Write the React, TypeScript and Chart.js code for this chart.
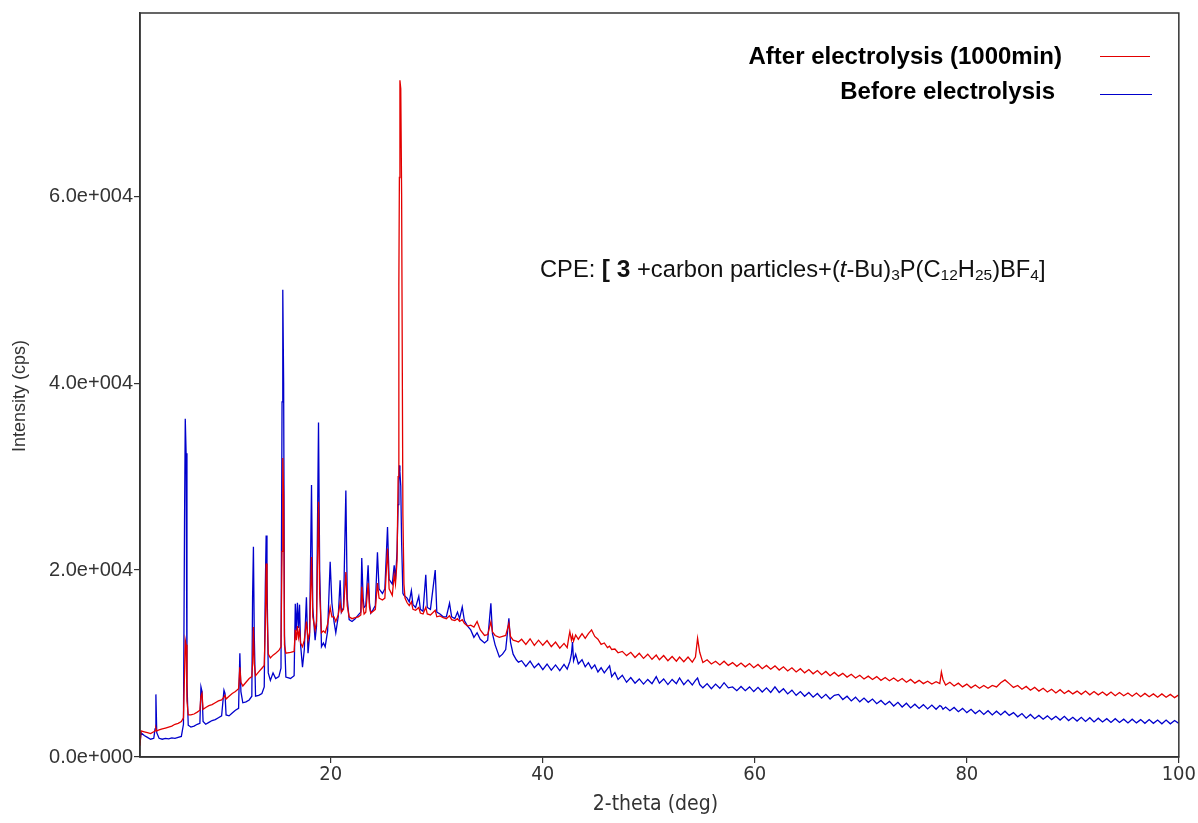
import React, { useEffect, useRef } from "react";
import { Chart, registerables } from "chart.js";

Chart.register(...registerables);

// ---------------- data ----------------
const twoTheta = [
  // 2 - 16 deg
  2.0, 2.1, 2.4, 2.7, 3.0, 3.3, 3.42, 3.5, 3.58, 3.8, 4.1, 4.4, 4.7, 5.0, 5.3, 5.6, 5.9,
  6.1, 6.2, 6.27, 6.35, 6.43, 6.55, 6.8, 7.1, 7.4, 7.65, 7.75, 7.85, 7.95, 8.2, 8.5, 8.8,
  9.1, 9.4, 9.7, 9.92, 10.02, 10.12, 10.4, 10.7, 11.0, 11.3, 11.42, 11.52, 11.7, 12.0,
  12.3, 12.55, 12.62, 12.7, 12.78, 12.9, 13.2, 13.5, 13.72, 13.82, 13.9, 13.98, 14.1,
  14.3, 14.55, 14.8, 15.1, 15.3, 15.4, 15.47, 15.55, 15.63, 15.76,
  // 16 - 38 deg
  16.2, 16.54, 16.65, 16.75, 16.85, 16.95, 17.05, 17.15, 17.33, 17.5, 17.7, 17.85, 18.0,
  18.18, 18.3, 18.52, 18.65, 18.84, 18.95, 19.12, 19.3, 19.47, 19.7, 19.94, 20.1, 20.3,
  20.47, 20.7, 20.88, 21.0, 21.2, 21.42, 21.55, 21.73, 22.0, 22.3, 22.6, 22.83, 22.92,
  23.05, 23.14, 23.3, 23.52, 23.65, 23.77, 24.0, 24.2, 24.4, 24.55, 24.87, 25.1, 25.35,
  25.5, 25.8, 25.98, 26.1, 26.25, 26.35, 26.42, 26.47, 26.52, 26.6, 26.68, 26.8, 26.9,
  27.0, 27.2, 27.4, 27.6, 27.75, 28.0, 28.3, 28.45, 28.7, 28.96, 29.1, 29.4, 29.85, 30.0,
  30.3, 30.6, 30.9, 31.2, 31.4, 31.7, 31.95, 32.15, 32.4, 32.6, 32.9, 33.2, 33.5, 33.8,
  34.1, 34.5, 34.8, 35.1, 35.25, 35.5, 35.9, 36.2, 36.5, 36.8, 36.95, 37.2, 37.5, 37.7,
  // 38 - 100 deg
  38.0, 38.4, 38.8, 39.2, 39.6, 40.0, 40.4, 40.8, 41.2, 41.6, 42.0, 42.3, 42.45, 42.55,
  42.7, 42.8, 42.9, 43.1, 43.35, 43.7, 44.0, 44.3, 44.6, 44.9, 45.2, 45.5, 45.8, 46.1,
  46.3, 46.5, 46.8, 47.1, 47.5, 47.9, 48.3, 48.7, 49.1, 49.5, 49.9, 50.3, 50.7, 51.0,
  51.4, 51.8, 52.2, 52.6, 52.9, 53.3, 53.7, 54.1, 54.4, 54.6, 54.8, 55.1, 55.5, 55.9,
  56.3, 56.7, 57.1, 57.5, 57.9, 58.3, 58.7, 59.1, 59.5, 59.9, 60.3, 60.7, 61.1, 61.5,
  61.9, 62.3, 62.7, 63.1, 63.5, 63.9, 64.3, 64.7, 65.1, 65.5, 65.9, 66.3, 66.7, 67.1,
  67.5, 67.9, 68.3, 68.7, 69.1, 69.5, 69.9, 70.3, 70.7, 71.1, 71.5, 71.9, 72.3, 72.7,
  73.1, 73.5, 73.9, 74.3, 74.7, 75.1, 75.5, 75.9, 76.3, 76.7, 77.1, 77.45, 77.6, 77.75,
  78.0, 78.4, 78.8, 79.2, 79.6, 80.0, 80.4, 80.8, 81.2, 81.6, 82.0, 82.4, 82.8, 83.2,
  83.6, 84.0, 84.4, 84.8, 85.2, 85.6, 86.0, 86.4, 86.8, 87.2, 87.6, 88.0, 88.4, 88.8,
  89.2, 89.6, 90.0, 90.4, 90.8, 91.2, 91.6, 92.0, 92.4, 92.8, 93.2, 93.6, 94.0, 94.4,
  94.8, 95.2, 95.6, 96.0, 96.4, 96.8, 97.2, 97.6, 98.0, 98.4, 98.8, 99.2, 99.6, 100.0,
];

const afterCounts = [
  // 2 - 16 deg
  1200, 2800, 2700, 2600, 2500, 2700, 2800, 3100, 2800, 2900, 3000, 3100, 3200, 3300, 3500, 3600, 3800,
  4200, 9000, 12500, 12000, 6000, 4500, 4500, 4600, 4800, 5000, 6500, 6800, 5100, 5300, 5500, 5600,
  5800, 6000, 6100, 6400, 6600, 6200, 6500, 6800, 7000, 7300, 9600, 8000, 7600, 8000,
  8400, 8600, 10000, 13900, 10000, 8700, 9100, 9500, 9800, 14000, 20700, 16000, 11000,
  10600, 10900, 11100, 11400, 11800, 22000, 32000, 28000, 12000, 11100,
  // 16 - 38 deg
  11200, 11300, 13600, 12500, 14000, 12800, 13500, 12200, 11800, 12500, 14500, 12500, 13300,
  21400, 15000, 13600, 14500, 27300, 17500, 13300, 13500, 13300, 14200, 16000, 15000, 15000,
  14500, 15200, 16500, 15500, 15800, 19800, 16200, 15000, 14800, 14900, 15000, 15200, 18200,
  16000, 15300, 15500, 18600, 16000, 15400, 15600, 15800, 18600, 17000, 16800, 17000, 22300,
  18000, 17300, 19500, 18500, 21000, 30000, 50500, 62000, 72400, 71500, 60300, 26000, 18500,
  17000, 16500, 16200, 16600, 15800, 15700, 16000, 15400, 15300, 16000, 15300, 15200, 15700, 15000,
  15100, 14900, 14800, 15100, 14700, 14600, 14800, 14500, 14700, 14300, 14000, 14100, 13900, 14500,
  13600, 13000, 13100, 14450, 13400, 13000, 12800, 12900, 13000, 14300, 12900, 12500, 12400, 12300,
  // 38 - 100 deg
  12600, 12050, 12650, 11950, 12500, 11950, 12450, 11800, 12300, 11650, 12150, 11700, 12800, 13400,
  12500, 13000, 12400, 13050, 12600, 13200, 12700, 13200, 13600, 12900, 12600, 12050, 12200, 11700,
  11850, 11500, 11550, 11150, 11300, 10850, 11200, 10650, 11100, 10550, 11000, 10450, 10900, 10400,
  10850, 10300, 10750, 10250, 10700, 10200, 10700, 10150, 10700, 12700, 11200, 10100, 10400, 9950,
  10250, 9850, 10250, 9800, 10100, 9700, 10050, 9650, 10000, 9550, 9900, 9450, 9800, 9400,
  9750, 9300, 9650, 9200, 9550, 9100, 9450, 9000, 9350, 8900, 9250, 8800, 9150, 8700,
  9050, 8650, 8950, 8550, 8850, 8450, 8750, 8350, 8650, 8300, 8600, 8200, 8500, 8150,
  8450, 8100, 8400, 8000, 8300, 7900, 8200, 7850, 8100, 7800, 8050, 7850, 9100, 8300,
  7700, 8000, 7600, 7900, 7500, 7800, 7400, 7700, 7350, 7650, 7350, 7650, 7500, 7950,
  8250, 7850, 7450, 7650, 7250, 7550, 7150, 7450, 7050, 7350, 6950, 7250, 6850, 7200,
  6800, 7100, 6750, 7050, 6700, 7050, 6650, 7000, 6650, 6950, 6600, 6950, 6550, 6900,
  6550, 6850, 6500, 6850, 6450, 6800, 6450, 6750, 6400, 6750, 6400, 6700, 6350, 6650,
];

const beforeCounts = [
  // 2 - 16 deg
  1500, 2600, 2300, 2100, 1900, 2000, 3000, 6700, 2600, 2000, 1900, 2000, 1950, 2050, 2000, 2100, 2200,
  3500, 25000, 36200, 32500, 8000, 3400, 3200, 3300, 3500, 3600, 7500, 7000, 3800, 3500, 3700, 3900,
  4000, 4200, 4400, 7150, 6800, 4500, 4400, 4700, 5000, 5200, 11100, 7000, 5800, 5900,
  6100, 6500, 17000, 22500, 13000, 6500, 6600, 6800, 7500, 18000, 23700, 19000, 9000,
  8200, 9000, 8400, 8600, 9500, 38000, 50000, 40000, 13000, 8550,
  // 16 - 38 deg
  8400, 8700, 16400, 13500, 16500, 13800, 16300, 12000, 9600, 11500, 17100, 11100, 13000,
  29100, 16000, 12500, 14000, 35800, 20000, 11800, 12200, 11800, 13500, 20900, 16500, 14500,
  13300, 15000, 18900, 15500, 16000, 28500, 17000, 14700, 14500, 14800, 15200, 15500, 21300,
  17000, 16000, 16200, 20500, 16500, 15400, 15800, 16200, 21900, 18000, 17500, 18000, 24600,
  19000, 18500, 20500, 19000, 22000, 27000, 29500, 31200, 30500, 29000, 23000, 17500, 17300,
  17200, 17000, 16600, 17800, 16300, 16000, 17200, 15800, 15600, 19500, 16000, 15800, 20000, 15500,
  15300, 15000, 15000, 16450, 15000, 14800, 15500, 14800, 16050, 14600, 14000, 13600, 12800, 13300,
  12600, 12200, 12500, 16450, 13200, 12000, 10700, 11000, 11500, 14850, 12300, 11000, 10400, 10150,
  // 38 - 100 deg
  10300, 9700, 10250, 9550, 10000, 9350, 9950, 9300, 9850, 9250, 9900, 9400, 9900, 10200,
  11000, 12300, 10300, 11000, 9950, 10400, 9650, 10100, 9450, 9850, 9100, 9550, 9000, 9450,
  9750, 8600, 9050, 8300, 8750, 8000, 8500, 7900, 8350, 7800, 8300, 7850, 8600, 7900,
  8350, 7750, 8300, 7850, 8450, 7750, 8250, 7700, 8200, 8450, 7750, 7400, 7850, 7300,
  7800, 7350, 7950, 7400, 7500, 7100, 7550, 7100, 7500, 7000, 7450, 6950, 7400, 6900,
  7500, 6900, 7300, 6750, 7150, 6600, 7000, 6500, 6900, 6400, 6800, 6300, 6700, 6200,
  6600, 6700, 6150, 6500, 6000, 6400, 5900, 6300, 5850, 6200, 5700, 6050, 5600, 5950,
  5450, 5850, 5350, 5750, 5250, 5650, 5200, 5600, 5150, 5550, 5100, 5500, 5400, 5100,
  5350, 4950, 5300, 4850, 5200, 4750, 5100, 4650, 5000, 4550, 4950, 4500, 4900, 4500,
  4900, 4450, 4750, 4300, 4650, 4150, 4550, 4100, 4450, 4050, 4400, 4000, 4350, 3950,
  4350, 3900, 4250, 3850, 4250, 3800, 4200, 3750, 4150, 3750, 4100, 3700, 4100, 3700,
  4050, 3650, 4050, 3650, 4000, 3600, 4000, 3600, 3950, 3550, 3950, 3550, 3900, 3600,
];

const seriesLabels = ["After electrolysis (1000min)", "Before electrolysis"];
const seriesColors = ["#e30000", "#0000cc"];
const xTicks = [20, 40, 60, 80, 100];
const yTicks = [0, 20000, 40000, 60000];
const xTitle = "2-theta (deg)";
const yTitle = "Intensity (cps)";
const noteRuns = [
  { text: "CPE: ", style: "normal" },
  { text: "[", style: "bold" },
  { text: " 3", style: "bold" },
  { text: " +carbon particles+(", style: "normal" },
  { text: "t", style: "italic" },
  { text: "-Bu)", style: "normal" },
  { text: "3", style: "sub" },
  { text: "P(C", style: "normal" },
  { text: "12", style: "sub" },
  { text: "H", style: "normal" },
  { text: "25", style: "sub" },
  { text: ")BF", style: "normal" },
  { text: "4", style: "sub" },
  { text: "]", style: "normal" },
];

const W = 1198;
const H = 823;
const SANS = '"Liberation Sans", Arial, sans-serif';
const NARROW = '"Liberation Sans Narrow", "Arial Narrow", "DejaVu Sans Condensed", sans-serif';

function sci(v: number): string {
  if (v === 0) return "0.0e+000";
  const e = Math.floor(Math.log10(Math.abs(v)));
  const m = v / Math.pow(10, e);
  return `${m.toFixed(1)}e${e >= 0 ? "+" : "-"}${String(Math.abs(e)).padStart(3, "0")}`;
}

const decorPlugin = {
  id: "decor",
  afterDatasetsDraw(chart: any) {
    const { ctx, chartArea } = chart;
    const { left, top, right, bottom } = chartArea;
    ctx.save();
    // frame
    ctx.strokeStyle = "#333";
    ctx.lineWidth = 1.5;
    ctx.strokeRect(left, top, right - left, bottom - top);

    // legend
    ctx.font = `bold 24px ${SANS}`;
    ctx.fillStyle = "#000";
    ctx.textAlign = "right";
    ctx.textBaseline = "middle";
    ctx.fillText(seriesLabels[0], 1062, 57);
    ctx.fillText(seriesLabels[1], 1055, 92);
    ctx.lineWidth = 1.2;
    ctx.strokeStyle = seriesColors[0];
    ctx.beginPath();
    ctx.moveTo(1100, 56.5);
    ctx.lineTo(1150, 56.5);
    ctx.stroke();
    ctx.strokeStyle = seriesColors[1];
    ctx.beginPath();
    ctx.moveTo(1100, 94.5);
    ctx.lineTo(1152, 94.5);
    ctx.stroke();

    // annotation
    ctx.textAlign = "left";
    ctx.textBaseline = "alphabetic";
    ctx.fillStyle = "#111";
    let x = 540;
    const base = 277;
    for (const run of noteRuns) {
      let font = `23.7px ${SANS}`;
      let y = base;
      if (run.style === "bold") font = `bold 24.5px ${SANS}`;
      if (run.style === "italic") font = `italic 23.7px ${SANS}`;
      if (run.style === "sub") {
        font = `15.5px ${SANS}`;
        y = base + 3;
      }
      ctx.font = font;
      ctx.fillText(run.text, x, y);
      x += ctx.measureText(run.text).width;
    }

    // axis titles
    ctx.fillStyle = "#333";
    ctx.font = `21px ${NARROW}`;
    ctx.textAlign = "center";
    ctx.textBaseline = "middle";
    ctx.fillText(xTitle, (left + right) / 2 - 4, 805);

    ctx.save();
    ctx.translate(20, 396);
    ctx.rotate(-Math.PI / 2);
    ctx.font = `18px ${SANS}`;
    ctx.fillText(yTitle, 0, 0);
    ctx.restore();

    ctx.restore();
  },
};

export default function App() {
  const canvasRef = useRef<HTMLCanvasElement | null>(null);

  useEffect(() => {
    const canvas = canvasRef.current;
    if (!canvas) return;
    const afterPts = twoTheta.map((t, i) => ({ x: t, y: afterCounts[i] }));
    const beforePts = twoTheta.map((t, i) => ({ x: t, y: beforeCounts[i] }));

    const chart = new Chart(canvas, {
      type: "line",
      data: {
        datasets: [
          {
            label: seriesLabels[0],
            data: afterPts,
            borderColor: seriesColors[0],
            borderWidth: 1.3,
            pointRadius: 0,
            tension: 0,
            fill: false,
          },
          {
            label: seriesLabels[1],
            data: beforePts,
            borderColor: seriesColors[1],
            borderWidth: 1.3,
            pointRadius: 0,
            tension: 0,
            fill: false,
          },
        ],
      },
      options: {
        responsive: false,
        animation: false,
        devicePixelRatio: 1,
        parsing: false as any,
        normalized: true,
        layout: { padding: { top: 13, right: 19, left: 0, bottom: 0 } },
        plugins: {
          legend: { display: false },
          tooltip: { enabled: false },
          title: { display: false },
        },
        scales: {
          x: {
            type: "linear",
            min: 2,
            max: 100,
            afterBuildTicks: (scale: any) => {
              scale.ticks = xTicks.map((v) => ({ value: v }));
            },
            afterFit: (scale: any) => {
              scale.height = H - 757;
            },
            grid: {
              display: true,
              drawOnChartArea: false,
              drawTicks: true,
              tickLength: 6,
              color: "#333",
              lineWidth: 1.2,
            },
            border: { display: true, color: "#333", width: 1.5 },
            ticks: {
              color: "#333",
              padding: 2,
              maxRotation: 0,
              font: { family: NARROW, size: 20, lineHeight: 1 },
              callback: (v: any) => String(v),
            },
          },
          y: {
            type: "linear",
            min: 0,
            max: 79600,
            afterBuildTicks: (scale: any) => {
              scale.ticks = yTicks.map((v) => ({ value: v }));
            },
            afterFit: (scale: any) => {
              scale.width = 140;
            },
            grid: {
              display: true,
              drawOnChartArea: false,
              drawTicks: true,
              tickLength: 6,
              color: "#333",
              lineWidth: 1.2,
            },
            border: { display: true, color: "#333", width: 1.5 },
            ticks: {
              color: "#333",
              padding: 1,
              font: { family: SANS, size: 20 },
              callback: (v: any) => sci(Number(v)),
            },
          },
        },
      },
      plugins: [decorPlugin],
    });
    return () => chart.destroy();
  }, []);

  return (
    <div style={{ position: "fixed", left: 0, top: 0, width: W, height: H, background: "#fff" }}>
      <canvas ref={canvasRef} width={W} height={H} style={{ width: W, height: H, display: "block" }} />
    </div>
  );
}
